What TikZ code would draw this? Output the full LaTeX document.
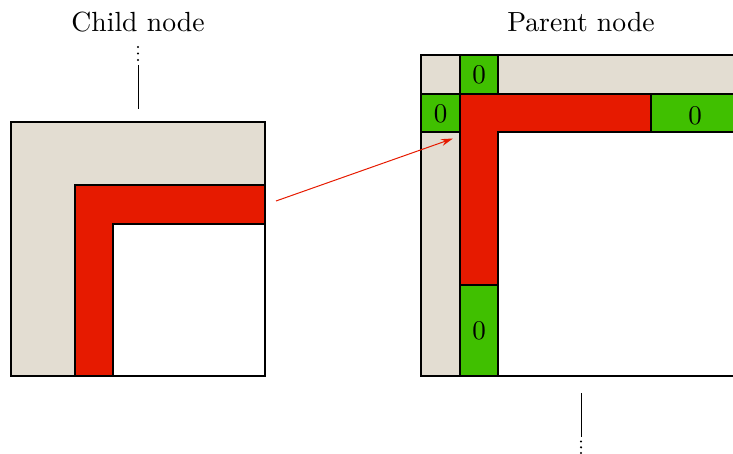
\documentclass[tikz,border=0pt]{standalone}
\usetikzlibrary{arrows.meta}
\definecolor{beige}{RGB}{227,221,210}
\definecolor{cellred}{RGB}{230,26,0}
\definecolor{cellgreen}{RGB}{64,192,0}
\begin{document}
\begin{tikzpicture}[x=1pt,y=-1pt,
  region/.style={draw=black,line width=1.3pt,line join=miter},
  bg/.style={region,fill=beige},
  redcell/.style={region,fill=cellred},
  greencell/.style={region,fill=cellgreen},
  blank/.style={region,fill=white},
  zero/.style={font=\fontsize{10}{12}\selectfont,inner sep=0pt,scale=2.7},
  title/.style={font=\fontsize{10}{12}\selectfont,inner sep=0pt,scale=2.77},
  stem/.style={draw=black,line width=1pt},
  dot/.style={fill=black,circle,inner sep=0pt,minimum size=2.4pt},
  link/.style={draw=cellred,line width=1pt,-{Stealth[length=12pt,width=7pt,inset=4pt]}}]
\useasboundingbox (0,0) rectangle (733,454);
\begin{scope}
\clip (0,0) rectangle (733,454);
% Child node
\draw[bg] (11,122) rectangle (265,376);
\draw[redcell] (75,376) -- (75,185) -- (265,185) -- (265,224) -- (113,224) -- (113,376) -- cycle;
\draw[blank] (113,224) rectangle (265,376);
\node[title] (childlbl) at (138,22) {Child node};
\node[dot] (cd1) at (138,47) {};
\node[dot] (cd2) at (138,53.5) {};
\node[dot] (cd3) at (138,60) {};
\coordinate (cs1) at (138,65);
\coordinate (cs2) at (138,109);
\draw[stem] (cs1) -- (cs2);
% Parent node
\draw[bg] (421,55) rectangle (745,376);
\draw[redcell] (460,285) -- (460,94) -- (651,94) -- (651,132) -- (498,132) -- (498,285) -- cycle;
\draw[blank] (498,132) rectangle (745,376);
\draw[greencell] (460,55) rectangle (498,94);
\node[zero] (z1) at (479,75) {0};
\draw[greencell] (421,94) rectangle (460,132);
\node[zero] (z2) at (440.5,114) {0};
\draw[greencell] (651,94) rectangle (745,132);
\node[zero] (z3) at (695,116) {0};
\draw[greencell] (460,285) rectangle (498,376);
\node[zero] (z4) at (479,331) {0};
\node[title] (parentlbl) at (581,22) {Parent node};
\coordinate (ps1) at (581,393);
\coordinate (ps2) at (581,437);
\draw[stem] (ps1) -- (ps2);
\node[dot] (pd1) at (581,441.5) {};
\node[dot] (pd2) at (581,447.3) {};
\node[dot] (pd3) at (581,453) {};
% arrow
\coordinate (from) at (276,201);
\coordinate (to) at (453,138.5);
\draw[link] (from) -- (to);
\end{scope}
\end{tikzpicture}
\end{document}
